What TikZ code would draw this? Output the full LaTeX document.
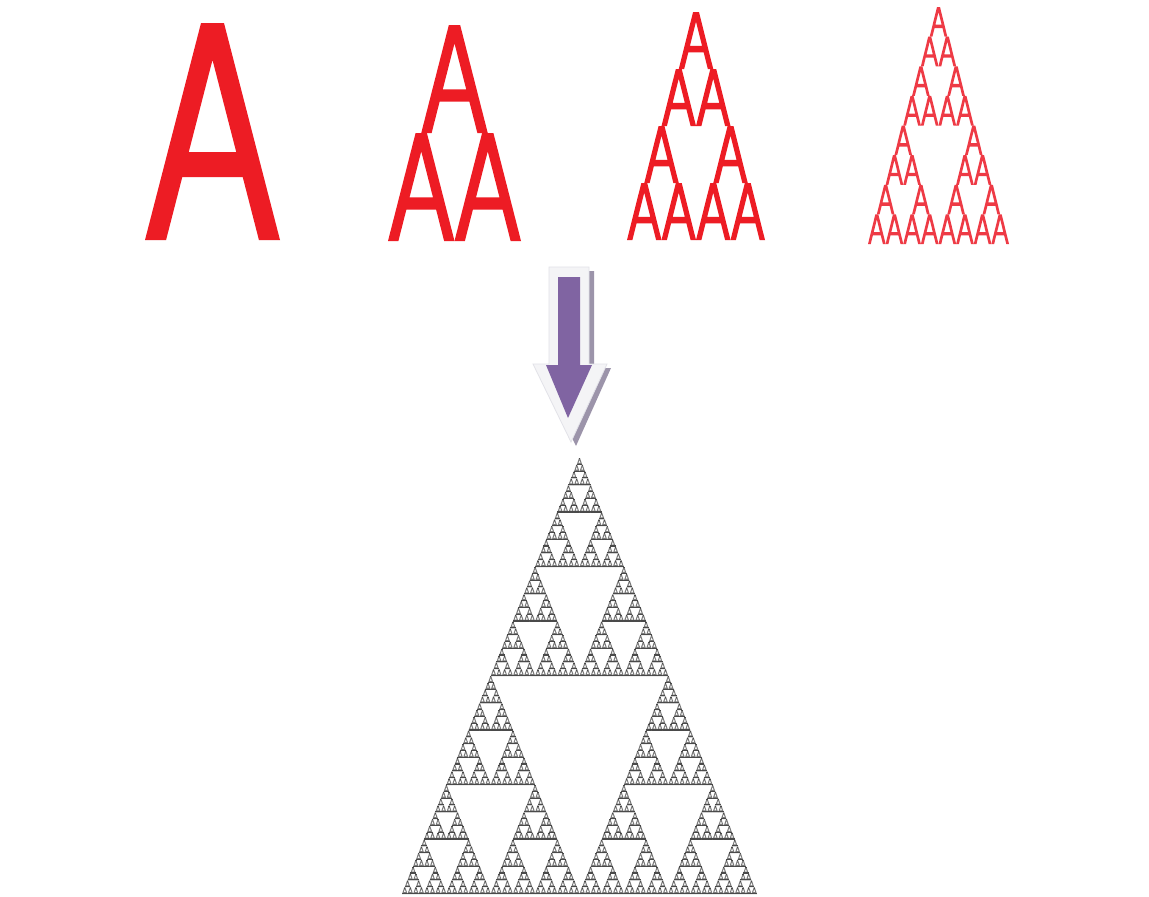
\documentclass[tikz,border=0pt]{standalone}
\usetikzlibrary{calc}
\definecolor{ared}{HTML}{ED1C24}
\definecolor{aredlight}{HTML}{EE3A45}
\definecolor{fgray}{HTML}{7A7A7A}
\definecolor{fdark}{HTML}{4A4A4A}
\definecolor{apurple}{HTML}{8064A2}
\definecolor{ashadow}{HTML}{9C94AA}
\definecolor{arim}{HTML}{F4F4F6}
\definecolor{arimline}{HTML}{E2E2E8}
\newcommand\glyphA[4]{% x left, y bottom, width, height (px, y down)
  \begin{scope}[shift={(#1,#2)},xscale=#3,yscale=-#4]
    \fill[even odd rule]
      (0,0) -- (0.415,1) -- (0.585,1) -- (1,0) -- (0.844,0) -- (0.724,0.29)
      -- (0.276,0.29) -- (0.156,0) -- cycle
      (0.324,0.405) -- (0.5,0.83) -- (0.676,0.405) -- cycle;
  \end{scope}}
\newcommand\leafT[4]{% tiny grey A for the final fractal
  \begin{scope}[shift={(#1,#2)},xscale=#3,yscale=-#4]
    \fill[fgray,even odd rule]
      (0,0) -- (0.42,1) -- (0.58,1) -- (1,0) -- cycle
      (0.3,0.28) -- (0.5,0.72) -- (0.7,0.28) -- cycle;
    \fill[fdark] (0,0) rectangle (1,0.16);
    \fill[fdark] (0.38,0.82) rectangle (0.62,0.95);
  \end{scope}}
\let\leafcmd\glyphA
\newcommand\sierA[5]{% depth, x left, y bottom, width, height
  \ifnum#1=0\relax
    \leafcmd{#2}{#3}{#4}{#5}%
  \else
    \begingroup
    \pgfmathsetmacro\sw{#4/2}%
    \pgfmathsetmacro\sh{#5/2}%
    \pgfmathsetmacro\sxm{#2+#4/4}%
    \pgfmathsetmacro\sxr{#2+#4/2}%
    \pgfmathsetmacro\syt{#3-#5/2}%
    \edef\sdo{%
      \noexpand\sierA{\the\numexpr#1-1\relax}{#2}{#3}{\sw}{\sh}%
      \noexpand\sierA{\the\numexpr#1-1\relax}{\sxr}{#3}{\sw}{\sh}%
      \noexpand\sierA{\the\numexpr#1-1\relax}{\sxm}{\syt}{\sw}{\sh}}%
    \sdo
    \endgroup
  \fi}
\begin{document}
\begin{tikzpicture}[x=1pt,y=-1pt]
\useasboundingbox[fill=white] (0,0) rectangle (1149,897);
% four stages
\begin{scope}[ared]
  \sierA{0}{145}{240}{135}{217}
  \sierA{1}{388}{241}{133}{216}
  \sierA{2}{627}{240}{138}{228}
\end{scope}
\begin{scope}[aredlight]
  \sierA{3}{868}{244}{141}{237}
\end{scope}
% arrow
\fill[ashadow] (553,271) -- (594,271) -- (594,368) -- (611,368) -- (576,446) -- (538,368) -- (553,368) -- cycle;
\filldraw[draw=arimline,fill=arim,line width=0.8pt]
  (549,267) -- (589,267) -- (589,364) -- (607,364) -- (571,442) -- (533,364) -- (549,364) -- cycle;
\fill[apurple] (558,277) -- (580,277) -- (580,365) -- (592,365) -- (568,418) -- (546,365) -- (558,365) -- cycle;
% final fractal
\let\leafcmd\leafT
\sierA{6}{402}{894}{355}{436}
\end{tikzpicture}
\end{document}
